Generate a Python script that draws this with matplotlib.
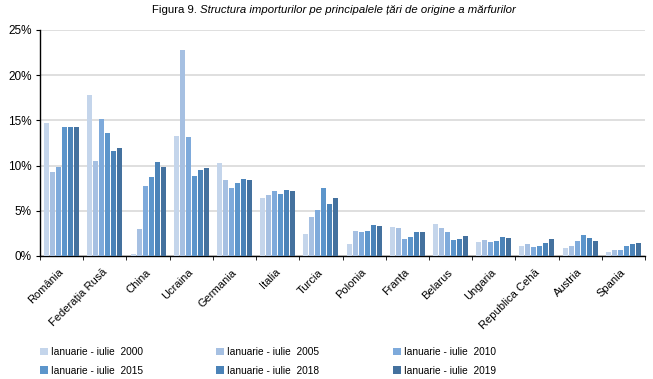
import matplotlib
matplotlib.use("Agg")
import matplotlib.pyplot as plt
import matplotlib.transforms as mtransforms
import numpy as np
from matplotlib.ticker import FuncFormatter, FixedLocator

plt.rcParams['font.family'] = ['Liberation Sans', 'DejaVu Sans']

countries = ["România", "Federația Rusă", "China", "Ucraina", "Germania", "Italia",
             "Turcia", "Polonia", "Franța", "Belarus", "Ungaria", "Republica Cehă",
             "Austria", "Spania"]
series_labels = ["Ianuarie - iulie  2000", "Ianuarie - iulie  2005", "Ianuarie - iulie  2010",
                 "Ianuarie - iulie  2015", "Ianuarie - iulie  2018", "Ianuarie - iulie  2019"]
v2000 = [14.7, 17.8, 0.2, 13.3, 10.3, 6.4, 2.4, 1.3, 3.2, 3.5, 1.5, 1.1, 0.9, 0.4]
v2005 = [9.3, 10.5, 3.0, 22.8, 8.4, 6.8, 4.3, 2.8, 3.1, 3.1, 1.8, 1.3, 1.1, 0.7]
v2010 = [9.9, 15.2, 7.7, 13.2, 7.5, 7.2, 5.1, 2.6, 1.9, 2.6, 1.6, 1.0, 1.7, 0.7]
v2015 = [14.3, 13.6, 8.7, 8.9, 8.1, 6.9, 7.5, 2.8, 2.1, 1.8, 1.7, 1.1, 2.3, 1.1]
v2018 = [14.3, 11.6, 10.4, 9.5, 8.5, 7.3, 5.8, 3.4, 2.7, 1.9, 2.1, 1.4, 2.0, 1.3]
v2019 = [14.3, 11.9, 9.9, 9.7, 8.4, 7.2, 6.4, 3.3, 2.7, 2.2, 2.0, 1.9, 1.7, 1.4]
series = [v2000, v2005, v2010, v2015, v2018, v2019]
colors = ["#c4d5eb", "#a6c0e2", "#7eaadb", "#5c95cb", "#4b83b8", "#44719e"]

fig = plt.figure(figsize=(6.53, 3.79), dpi=100)
ax = fig.add_axes([40/653, 1-256/379, 605/653, 226/379])

x = np.arange(len(countries))
step = 0.139
width = 0.115
for i, (vals, c, lab) in enumerate(zip(series, colors, series_labels)):
    ax.bar(x + (i - 2.5) * step, vals, width=width, color=c, label=lab, zorder=3)

ax.set_xlim(-0.5, len(countries) - 0.5)
ax.set_ylim(0, 25)
ax.set_yticks([0, 5, 10, 15, 20, 25])
ax.yaxis.set_major_formatter(FuncFormatter(lambda v, p: f"{int(v)}%"))
ax.grid(axis='y', color='#d9d9d9', linewidth=1.2, zorder=0)
ax.set_axisbelow(True)
for s in ['top', 'right']:
    ax.spines[s].set_visible(False)
ax.spines['left'].set_color('black')
ax.spines['bottom'].set_color('black')
ax.spines['left'].set_linewidth(1.0)
ax.spines['bottom'].set_linewidth(1.0)

ax.set_xticks(x)
ax.set_xticklabels(countries, rotation=45, ha='right', rotation_mode='anchor', fontsize=8)
ax.tick_params(axis='x', which='major', length=0, pad=8)
offset = mtransforms.ScaledTranslation(-3/100, 0, fig.dpi_scale_trans)
for lbl in ax.get_xticklabels():
    lbl.set_transform(lbl.get_transform() + offset)
ax.xaxis.set_minor_locator(FixedLocator(np.arange(-0.5, len(countries), 1.0)))
ax.tick_params(axis='x', which='minor', length=3, direction='out', color='black')
ax.tick_params(axis='y', labelsize=8.5, length=3, direction='out', color='black', pad=3)

handles, labels = ax.get_legend_handles_labels()
col_x = [40, 216, 393]
for j, cxp in enumerate(col_x):
    lg = fig.legend([handles[j], handles[j + 3]], [labels[j], labels[j + 3]],
                    loc='upper left', bbox_to_anchor=(cxp/653, 1-347/379),
                    ncol=1, frameon=False, fontsize=7.3, handlelength=0.75, handleheight=0.75,
                    handletextpad=0.3, labelspacing=0.85, borderpad=0, borderaxespad=0)

# Title: regular + italic parts
fig.canvas.draw()
r = fig.canvas.get_renderer()
t1 = fig.text(0, 0, "Figura 9. ", fontsize=8.2)
t2 = fig.text(0, 0, "Structura importurilor pe principalele țări de origine a mărfurilor",
              fontsize=8.2, style='italic')
w1 = t1.get_window_extent(r).width
w2 = t2.get_window_extent(r).width
cx = 334
y = 1 - 10/379
x0 = (cx - (w1 + w2) / 2)
t1.set_position((x0/653, y))
t2.set_position(((x0 + w1)/653, y))
t1.set_va('center'); t2.set_va('center')

fig.savefig("out.png", dpi=100)
